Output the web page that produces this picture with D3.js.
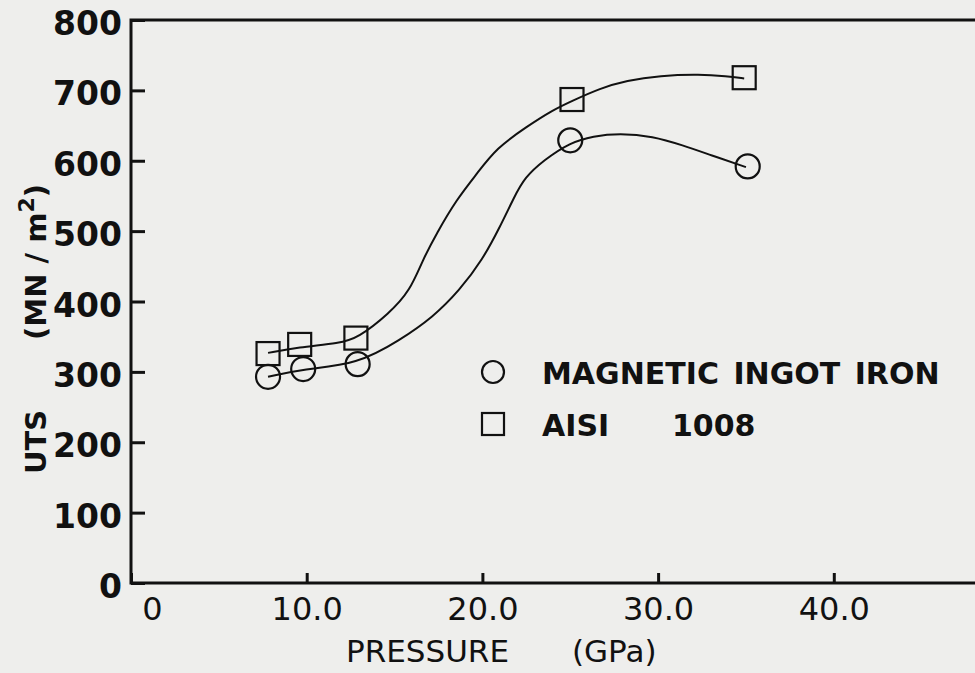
<!DOCTYPE html>
<html>
<head>
<meta charset="utf-8">
<script src="https://cdn.jsdelivr.net/npm/d3@7"></script>
<style>
  body { margin: 0; background: #eeeeec; }
  svg { display: block; }
</style>
</head>
<body>
<svg id="chart" width="975" height="673"></svg>
<script>
// measured points
var ironP = [7.8, 9.8, 12.9, 25.0, 35.1];
var ironUTS = [293, 304, 311, 629, 592];
var aisiP = [7.8, 9.6, 12.8, 25.1, 34.9];
var aisiUTS = [326, 339, 348, 687, 718];

// hand drawn fit curves
var ironFitP = [7.8, 9.8, 12.9, 15.3, 17.2, 18.7, 20.0, 21.0, 21.8, 22.4, 23.5, 25.0, 26.3, 27.8, 29.7, 31.4, 33.0, 35.0];
var ironFitUTS = [293, 304, 311, 345, 378, 416, 459, 506, 548, 576, 601, 626, 635, 639, 635, 622, 608, 591];
var aisiFitP = [7.8, 9.5, 11.9, 12.9, 14.7, 15.9, 16.6, 17.4, 18.5, 19.7, 20.8, 22.5, 24.0, 25.1, 26.7, 28.2, 30.1, 32.4, 33.9, 34.9];
var aisiFitUTS = [327, 335, 341, 348, 383, 416, 459, 497, 544, 582, 618, 648, 672, 685, 703, 714, 721, 723, 720, 717];

var xTicks = [0, 10, 20, 30, 40];
var yTicks = [0, 100, 200, 300, 400, 500, 600, 700, 800];
var legendNames = ["MAGNETIC INGOT IRON", "AISI"];

var svg = d3.select("#chart");
var ink = "#111";

var x = d3.scaleLinear().domain([0, 10]).range([131, 306.7]);
var y = d3.scaleLinear().domain([0, 800]).range([583, 20]);

// frame (left axis, top line, bottom axis)
svg.append("path")
    .attr("d", "M975," + y(800) + "H" + x(0) + "V" + y(0) + "H975")
    .attr("fill", "none")
    .attr("stroke", ink)
    .attr("stroke-width", 3);

var yAxis = svg.append("g")
    .attr("transform", "translate(" + x(0) + ",0)")
    .call(d3.axisLeft(y).tickValues(yTicks).tickSize(-14).tickPadding(9).tickFormat(d3.format("d")));
yAxis.select(".domain").remove();
yAxis.selectAll("line").attr("stroke", ink).attr("stroke-width", 3);
yAxis.selectAll("text")
    .attr("fill", ink)
    .attr("dy", "0.32em")
    .attr("transform", "translate(0,4)")
    .style("font-family", "DejaVu Sans")
    .style("font-weight", "bold")
    .style("font-size", "33px");

var xAxis = svg.append("g")
    .attr("transform", "translate(0," + y(0) + ")")
    .call(d3.axisBottom(x).tickValues(xTicks).tickSize(-10).tickPadding(14)
        .tickFormat(function(d) { return d === 0 ? "0" : d3.format(".1f")(d); }));
xAxis.select(".domain").remove();
xAxis.selectAll("line").attr("stroke", ink).attr("stroke-width", 3);
xAxis.selectAll("text")
    .attr("fill", ink)
    .attr("dx", function(d) { return d === 0 ? 21 : 0; })
    .style("font-family", "DejaVu Sans")
    .style("font-size", "32px");

// axis titles
var xt = svg.append("text")
    .attr("y", 662)
    .attr("fill", ink)
    .style("font-family", "DejaVu Sans")
    .style("font-size", "31px");
xt.append("tspan").attr("x", 346).text("PRESSURE");
xt.append("tspan").attr("x", 572).text("(GPa)");

svg.append("text")
    .attr("transform", "translate(46,442) rotate(-90)")
    .attr("text-anchor", "middle")
    .attr("fill", ink)
    .style("font-family", "DejaVu Sans")
    .style("font-weight", "bold")
    .style("font-size", "29px")
    .text("UTS");

var unit = svg.append("text")
    .attr("transform", "translate(46,262) rotate(-90)")
    .attr("text-anchor", "middle")
    .attr("fill", ink)
    .style("font-family", "DejaVu Sans")
    .style("font-weight", "bold")
    .style("font-size", "29px");
unit.append("tspan").text("(MN / m");
unit.append("tspan").attr("dy", -12).style("font-size", "22px").text("2");
unit.append("tspan").attr("dy", 12).text(")");

// fit curves
var line = d3.line()
    .x(function(d) { return x(d[0]); })
    .y(function(d) { return y(d[1]); })
    .curve(d3.curveBasis);

[[ironFitP, ironFitUTS], [aisiFitP, aisiFitUTS]].forEach(function(s) {
    svg.append("path")
        .datum(d3.zip(s[0], s[1]))
        .attr("d", line)
        .attr("fill", "none")
        .attr("stroke", ink)
        .attr("stroke-width", 2);
});

// markers
svg.selectAll("circle.iron")
    .data(d3.zip(ironP, ironUTS))
    .enter().append("circle")
    .attr("class", "iron")
    .attr("cx", function(d) { return x(d[0]); })
    .attr("cy", function(d) { return y(d[1]); })
    .attr("r", 12)
    .attr("fill", "none")
    .attr("stroke", ink)
    .attr("stroke-width", 2.2);

svg.selectAll("rect.aisi")
    .data(d3.zip(aisiP, aisiUTS))
    .enter().append("rect")
    .attr("class", "aisi")
    .attr("x", function(d) { return x(d[0]) - 11.5; })
    .attr("y", function(d) { return y(d[1]) - 11.5; })
    .attr("width", 23)
    .attr("height", 23)
    .attr("fill", "none")
    .attr("stroke", ink)
    .attr("stroke-width", 2.2);

// legend
var lg = svg.append("g").attr("transform", "translate(493,372)");
lg.append("circle").attr("r", 11).attr("fill", "none").attr("stroke", ink).attr("stroke-width", 2.2);
lg.append("rect").attr("x", -11).attr("y", 41).attr("width", 22).attr("height", 22)
    .attr("fill", "none").attr("stroke", ink).attr("stroke-width", 2.2);
lg.append("text")
    .attr("x", 49).attr("y", 12)
    .attr("fill", ink)
    .style("font-family", "DejaVu Sans")
    .style("font-weight", "bold")
    .style("font-size", "30px")
    .style("word-spacing", "4px")
    .text(legendNames[0]);
var l2 = lg.append("text")
    .attr("y", 64)
    .attr("fill", ink)
    .style("font-family", "DejaVu Sans")
    .style("font-weight", "bold")
    .style("font-size", "30px");
l2.append("tspan").attr("x", 49).text(legendNames[1]);
l2.append("tspan").attr("x", 179).text("1008");
</script>
</body>
</html>
